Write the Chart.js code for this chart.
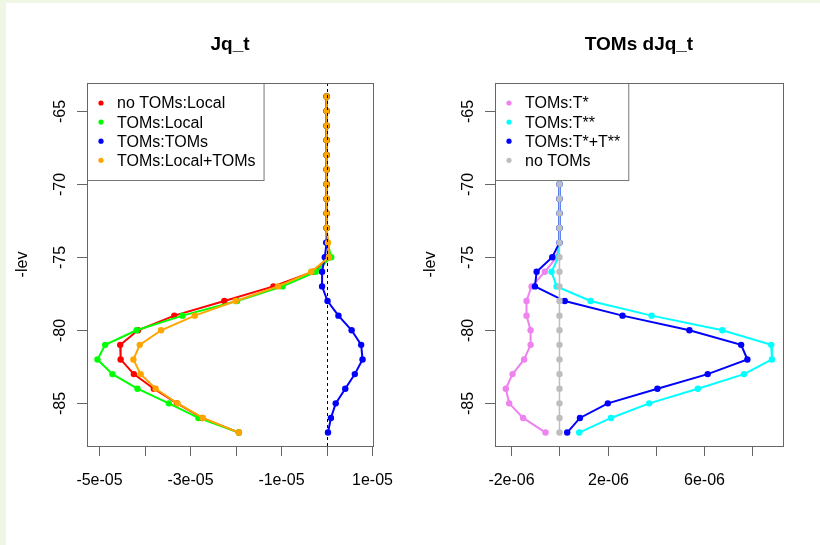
<!DOCTYPE html>
<html>
<head>
<meta charset="utf-8">
<title>Jq_t</title>
<script src="https://cdn.jsdelivr.net/npm/chart.js@4.4.1/dist/chart.umd.min.js"></script>
<style>
  body { margin: 0; background: #f0f6e4; width: 820px; height: 545px; overflow: hidden; }
  #page { position: absolute; left: 6px; top: 3px; width: 814px; height: 542px; background: #fff; }
  canvas { position: absolute; top: 0; }
</style>
</head>
<body>
<div id="page"></div>
<canvas id="leftChart" width="410" height="545" style="left:0"></canvas>
<canvas id="rightChart" width="410" height="545" style="left:410px"></canvas>
<script>
// model levels (plotted as -lev)
const levels = [-64, -65, -66, -67, -68, -69, -70, -71, -72, -73, -74, -75,
  -76, -77, -78, -79, -80, -81, -82, -83, -84, -85, -86, -87];

// left panel: Jq_t
const noTomsLocal = [0, 0, 0, 0, 0, 0, 0, 0, 0, 0, 0.02e-5, 0.05e-5,
  -0.30e-5, -1.17e-5, -2.25e-5, -3.35e-5, -4.15e-5, -4.54e-5, -4.53e-5, -4.24e-5, -3.80e-5, -3.29e-5, -2.74e-5, -1.93e-5];
const tomsLocal = [0, 0, 0, 0, 0, 0, 0, 0, 0, 0, 0.02e-5, 0.10e-5,
  -0.24e-5, -0.97e-5, -1.97e-5, -3.17e-5, -4.18e-5, -4.87e-5, -5.04e-5, -4.71e-5, -4.16e-5, -3.47e-5, -2.82e-5, -1.93e-5];
const tomsToms = [0, 0, 0, 0, 0, 0, 0, 0, 0, 0, -0.01e-5, -0.04e-5,
  -0.10e-5, -0.10e-5, 0.02e-5, 0.26e-5, 0.55e-5, 0.76e-5, 0.79e-5, 0.62e-5, 0.41e-5, 0.20e-5, 0.095e-5, 0.03e-5];
const tomsLocalToms = [0, 0, 0, 0, 0, 0, 0, 0, 0, 0, 0.03e-5, 0.05e-5,
  -0.34e-5, -1.07e-5, -2.00e-5, -2.90e-5, -3.64e-5, -4.11e-5, -4.25e-5, -4.09e-5, -3.76e-5, -3.28e-5, -2.72e-5, -1.93e-5];

// right panel: TOMs dJq_t
const tStar = [0, 0, 0, 0, 0, 0, 0, 0, 0, 0, 0, -0.12e-6,
  -0.61e-6, -1.16e-6, -1.37e-6, -1.37e-6, -1.20e-6, -1.20e-6, -1.47e-6, -1.95e-6, -2.23e-6, -2.09e-6, -1.51e-6, -0.58e-6];
const tStarStar = [0, 0, 0, 0, 0, 0, 0, 0, 0, 0, 0, -0.05e-6,
  -0.33e-6, -0.12e-6, 1.29e-6, 3.83e-6, 6.77e-6, 8.80e-6, 8.83e-6, 7.67e-6, 5.75e-6, 3.73e-6, 2.14e-6, 0.82e-6];
const tBoth = [0, 0, 0, 0, 0, 0, 0, 0, 0, 0, 0, -0.30e-6,
  -0.95e-6, -1.02e-6, 0.22e-6, 2.62e-6, 5.40e-6, 7.55e-6, 7.81e-6, 6.16e-6, 4.07e-6, 2.01e-6, 0.85e-6, 0.32e-6];
const noToms = [0, 0, 0, 0, 0, 0, 0, 0, 0, 0, 0, 0,
  0, 0, 0, 0, 0, 0, 0, 0, 0, 0, 0, 0];

// axis ticks
const yTicks = [-65, -70, -75, -80, -85];
const yTickLabels = ["-65", "-70", "-75", "-80", "-85"];
const leftXTicks = [-5e-5, -4e-5, -3e-5, -2e-5, -1e-5, 0, 1e-5];
const leftXLabels = ["-5e-05", "", "-3e-05", "", "-1e-05", "", "1e-05"];
const rightXTicks = [-2e-6, 0, 2e-6, 4e-6, 6e-6, 8e-6];
const rightXLabels = ["-2e-06", "", "2e-06", "", "6e-06", ""];

const FONT = "'Liberation Sans', Arial, Helvetica, sans-serif";

function series(label, values, color, order, lw) {
  return {
    label,
    data: values.map((v, i) => ({ x: v, y: levels[i] })),
    showLine: true,
    borderColor: color,
    backgroundColor: color,
    pointBackgroundColor: color,
    pointBorderWidth: 0,
    pointRadius: 3.2,
    borderWidth: lw || 2,
    order
  };
}

// R-style box, ticks, labels, legend
const rAxes = {
  id: "rAxes",
  afterDatasetsDraw(chart, args, o) {
    const { ctx, chartArea: a, scales: { x, y } } = chart;
    if (o.zeroLine) {
      const px = Math.round(x.getPixelForValue(0)) + 0.5;
      ctx.save();
      ctx.strokeStyle = "#000";
      ctx.lineWidth = 1;
      ctx.setLineDash([3, 3]);
      ctx.beginPath();
      ctx.moveTo(px, a.top);
      ctx.lineTo(px, a.bottom);
      ctx.stroke();
      ctx.restore();
    }
    // legend
    ctx.save();
    ctx.font = "16px " + FONT;
    const ds = chart.data.datasets;
    const textX = 30;
    let maxW = 0;
    ds.forEach(d => { maxW = Math.max(maxW, ctx.measureText(d.label).width); });
    const w = textX + maxW + 8, h = 97;
    const lx = Math.round(a.left) + 0.5, ly = Math.round(a.top) + 0.5;
    ctx.fillStyle = "#fff";
    ctx.fillRect(lx, ly, w, h);
    ctx.strokeStyle = "#777";
    ctx.lineWidth = 1;
    ctx.strokeRect(lx, ly, w, h);
    ctx.textBaseline = "middle";
    ds.forEach((d, i) => {
      const cy = a.top + 20 + i * 19.1;
      ctx.fillStyle = d.borderColor;
      ctx.beginPath();
      ctx.arc(a.left + 14, cy, 2.6, 0, Math.PI * 2);
      ctx.fill();
      ctx.fillStyle = "#000";
      ctx.fillText(d.label, a.left + textX, cy + 1);
    });
    ctx.restore();
  },
  afterDraw(chart, args, o) {
    const { ctx, chartArea: a, scales: { x, y } } = chart;
    ctx.save();
    ctx.strokeStyle = "#666";
    ctx.lineWidth = 1;
    ctx.strokeRect(Math.round(a.left) + 0.5, Math.round(a.top) + 0.5,
      Math.round(a.width), Math.round(a.height));
    ctx.fillStyle = "#000";
    ctx.font = "16px " + FONT;
    // x axis
    ctx.textAlign = "center";
    ctx.textBaseline = "alphabetic";
    o.xTicks.forEach((v, i) => {
      const px = Math.round(x.getPixelForValue(v)) + 0.5;
      ctx.beginPath();
      ctx.moveTo(px, a.bottom);
      ctx.lineTo(px, a.bottom + 10);
      ctx.stroke();
      if (o.xLabels[i]) ctx.fillText(o.xLabels[i], px, a.bottom + 39);
    });
    // y axis
    yTicks.forEach((v, i) => {
      const py = Math.round(y.getPixelForValue(v)) + 0.5;
      ctx.beginPath();
      ctx.moveTo(a.left - 10, py);
      ctx.lineTo(a.left, py);
      ctx.stroke();
      ctx.save();
      ctx.translate(a.left - 22, py);
      ctx.rotate(-Math.PI / 2);
      ctx.fillText(yTickLabels[i], 0, 0);
      ctx.restore();
    });
    ctx.save();
    ctx.translate(a.left - 60, (a.top + a.bottom) / 2);
    ctx.rotate(-Math.PI / 2);
    ctx.fillText("-lev", 0, 0);
    ctx.restore();
    // title
    ctx.font = "bold 19px " + FONT;
    ctx.fillText(o.title, (a.left + a.right) / 2, 50);
    ctx.restore();
  }
};

function makeChart(id, datasets, xMin, xMax, pad, axes) {
  return new Chart(document.getElementById(id), {
    type: "scatter",
    data: { datasets },
    options: {
      responsive: false,
      animation: false,
      devicePixelRatio: 1,
      layout: { padding: pad },
      scales: {
        x: { type: "linear", min: xMin, max: xMax, display: false },
        y: { type: "linear", min: -87.92, max: -63.08, display: false }
      },
      plugins: {
        legend: { display: false },
        tooltip: { enabled: false },
        rAxes: axes
      }
    },
    plugins: [rAxes]
  });
}

makeChart("leftChart", [
  series("no TOMs:Local", noTomsLocal, "#ff0000", 4),
  series("TOMs:Local", tomsLocal, "#00ff00", 3),
  series("TOMs:TOMs", tomsToms, "#0000ff", 2),
  series("TOMs:Local+TOMs", tomsLocalToms, "#ffa500", 1)
], -5.27e-5, 1.02e-5, { left: 87, right: 37, top: 83, bottom: 99 },
  { title: "Jq_t", xTicks: leftXTicks, xLabels: leftXLabels, zeroLine: true });

makeChart("rightChart", [
  series("TOMs:T*", tStar, "#ee82ee", 4),
  series("TOMs:T**", tStarStar, "#00ffff", 3),
  series("TOMs:T*+T**", tBoth, "#0000ff", 2),
  series("no TOMs", noToms, "#bebebe", 1, 1.5)
], -2.68e-6, 9.29e-6, { left: 85, right: 37, top: 83, bottom: 99 },
  { title: "TOMs dJq_t", xTicks: rightXTicks, xLabels: rightXLabels, zeroLine: false });
</script>
</body>
</html>
